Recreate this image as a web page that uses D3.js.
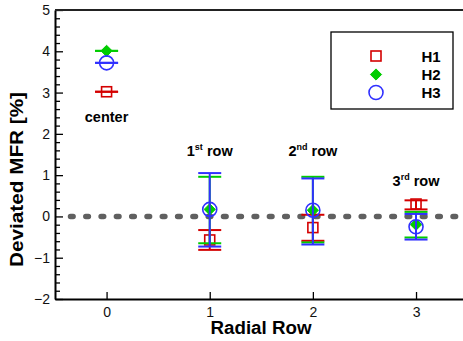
<!DOCTYPE html>
<html>
<head>
<meta charset="utf-8">
<script src="https://cdn.jsdelivr.net/npm/d3@7"></script>
<style>
  body { margin: 0; background: #fff; }
  text { font-family: "Liberation Sans", Arial, sans-serif; }
</style>
</head>
<body>
<div id="chart"></div>
<script>
// radial rows on the x axis
var rows = [0, 1, 2, 3];
var xTicks = [0, 1, 2, 3];
var yTicks = [-2, -1, 0, 1, 2, 3, 4, 5];

// deviated MFR values per hole, with error bar ends
var h1 = [3.02, -0.57, -0.27, 0.30];
var h1Low = [3.02, -0.81, -0.59, 0.17];
var h1High = [3.02, -0.33, 0.04, 0.39];

var h2 = [4.01, 0.17, 0.15, -0.20];
var h2Low = [4.01, -0.65, -0.63, -0.51];
var h2High = [4.01, 0.96, 0.96, 0.11];

var h3 = [3.72, 0.17, 0.15, -0.25];
var h3Low = [3.72, -0.73, -0.68, -0.56];
var h3High = [3.72, 1.05, 0.92, 0.06];

// row annotations (label text, superscript, anchor value)
var rowNames = ["center", "1", "2", "3"];
var rowSups = ["", "st", "nd", "rd"];
var rowLabelY = [2.29, 1.47, 1.47, 0.74];

var seriesNames = ["H1", "H2", "H3"];
var colors = ["#d40000", "#00cc00", "#3030ff"];

var width = 463, height = 341;
var margin = {top: 10, left: 55, bottom: 42};

var svg = d3.select("#chart").append("svg")
    .attr("width", width)
    .attr("height", height);

var xScale = d3.scaleLinear()
    .domain([-0.5, 3.5])
    .range([margin.left, 467.6]);

var yScale = d3.scaleLinear()
    .domain([-2, 5])
    .range([height - margin.bottom, margin.top]);

// zero reference line, dotted
svg.append("line")
    .attr("x1", 70.5)
    .attr("x2", width)
    .attr("y1", yScale(0))
    .attr("y2", yScale(0))
    .style("stroke", "#606060")
    .style("stroke-width", 5.5)
    .style("stroke-linecap", "round")
    .style("stroke-dasharray", "2.6,12.7");

// error bars + markers for each series
var series = [
  {name: "H1", vals: h1, lo: h1Low, hi: h1High, color: colors[0], shape: "square"},
  {name: "H2", vals: h2, lo: h2Low, hi: h2High, color: colors[1], shape: "diamond"},
  {name: "H3", vals: h3, lo: h3Low, hi: h3High, color: colors[2], shape: "circle"}
];

var capW = 11.5;

function drawMarker(g, shape, color, cx, cy) {
  if (shape == "square") {
    g.append("rect")
      .attr("x", cx - 5).attr("y", cy - 5)
      .attr("width", 10).attr("height", 10)
      .style("fill", "none").style("stroke", color).style("stroke-width", 1.6);
  } else if (shape == "diamond") {
    g.append("path")
      .attr("d", d3.symbol().type(d3.symbolDiamond2).size(80)())
      .attr("transform", "translate(" + cx + "," + cy + ")")
      .style("fill", color).style("stroke", color).style("stroke-width", 1);
  } else {
    g.append("circle")
      .attr("cx", cx).attr("cy", cy).attr("r", 7)
      .style("fill", "none").style("stroke", color).style("stroke-width", 1.6);
  }
}

series.forEach(function(s) {
  var g = svg.append("g").attr("class", "series-" + s.name);
  rows.forEach(function(r, i) {
    var cx = xScale(r);
    g.append("line")
      .attr("x1", cx).attr("x2", cx)
      .attr("y1", yScale(s.lo[i])).attr("y2", yScale(s.hi[i]))
      .style("stroke", s.color).style("stroke-width", 2);
    [s.lo[i], s.hi[i]].forEach(function(v) {
      g.append("line")
        .attr("x1", cx - capW).attr("x2", cx + capW)
        .attr("y1", yScale(v)).attr("y2", yScale(v))
        .style("stroke", s.color).style("stroke-width", 2);
    });
    drawMarker(g, s.shape, s.color, cx, yScale(s.vals[i]));
  });
});

// row labels
rows.forEach(function(r, i) {
  var t = svg.append("text")
    .attr("x", xScale(r))
    .attr("y", yScale(rowLabelY[i]))
    .attr("text-anchor", "middle")
    .style("font-size", "14.5px")
    .style("font-weight", "bold")
    .text(rowNames[i]);
  if (rowSups[i]) {
    t.append("tspan")
      .attr("dy", -6)
      .style("font-size", "9px")
      .text(rowSups[i]);
    t.append("tspan")
      .attr("dy", 6)
      .text(" row");
  }
});

// axes
var yAxis = svg.append("g")
    .attr("class", "y axis")
    .attr("transform", "translate(" + margin.left + ",0)")
    .call(d3.axisLeft(yScale).tickValues(yTicks).tickSize(-8).tickSizeOuter(0).tickPadding(5)
          .tickFormat(d3.format("d")));

var minor = d3.range(-2, 5.01, 0.2).filter(function(v) {
  return Math.abs(v - Math.round(v)) > 0.01;
});
svg.append("g")
    .attr("class", "y minor")
    .attr("transform", "translate(" + margin.left + ",0)")
    .call(d3.axisLeft(yScale).tickValues(minor).tickSize(-5).tickSizeOuter(0).tickFormat(""));

var xAxis = svg.append("g")
    .attr("class", "x axis")
    .attr("transform", "translate(0," + yScale(-2) + ")")
    .call(d3.axisBottom(xScale).tickValues(xTicks).tickSize(-7).tickSizeOuter(0).tickPadding(8)
          .tickFormat(d3.format("d")));

svg.selectAll(".axis text")
    .style("font-size", "14px")
    .style("fill", "#111")
    .style("font-family", "'Liberation Sans', Arial, sans-serif");
svg.selectAll(".axis .domain, .minor .domain")
    .style("stroke", "#000").style("stroke-width", 2);
svg.selectAll(".tick line").style("stroke", "#000").style("stroke-width", 1.3);
svg.select(".minor .domain").remove();

// top border of the frame
svg.append("line")
    .attr("x1", margin.left).attr("x2", width)
    .attr("y1", yScale(5)).attr("y2", yScale(5))
    .style("stroke", "#222").style("stroke-width", 2);

// axis titles
svg.append("text")
    .attr("transform", "translate(" + 22.5 + "," + 179.5 + ") rotate(-90)")
    .attr("text-anchor", "middle")
    .attr("textLength", 175)
    .attr("lengthAdjust", "spacingAndGlyphs")
    .style("font-size", "18.5px")
    .style("font-weight", "bold")
    .text("Deviated MFR [%]");

svg.append("text")
    .attr("x", 261)
    .attr("y", 334)
    .attr("text-anchor", "middle")
    .attr("textLength", 101)
    .attr("lengthAdjust", "spacingAndGlyphs")
    .style("font-size", "17.5px")
    .style("font-weight", "bold")
    .text("Radial Row");

// legend
var legend = svg.append("g").attr("class", "legend");
legend.append("rect")
    .attr("x", 331).attr("y", 32)
    .attr("width", 122).attr("height", 77)
    .style("fill", "#fff").style("stroke", "#000").style("stroke-width", 1.3);

var legY = [56, 74.5, 92.5];
series.forEach(function(s, i) {
  drawMarker(legend, s.shape, s.color, 376, legY[i]);
  legend.append("text")
    .attr("x", 421.5)
    .attr("y", legY[i] + 5.5)
    .style("font-size", "15px")
    .style("font-weight", "bold")
    .text(s.name);
});
</script>
</body>
</html>
